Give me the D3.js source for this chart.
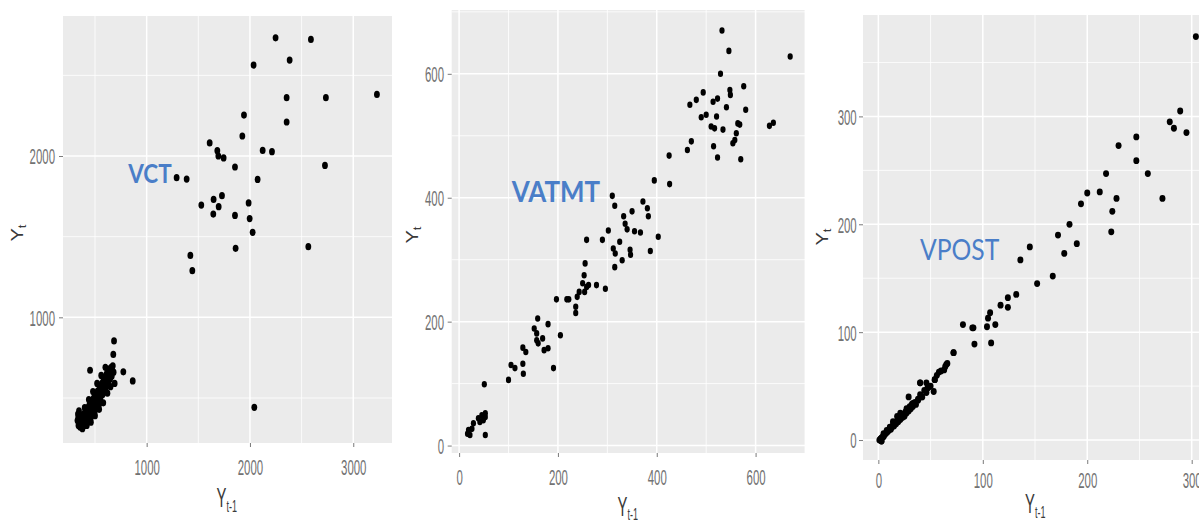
<!DOCTYPE html>
<html>
<head>
<meta charset="utf-8">
<script src="https://cdn.jsdelivr.net/npm/d3@7"></script>
<style>
  html, body { margin: 0; padding: 0; background: #ffffff; }
  svg { display: block; }
</style>
</head>
<body>
<svg id="chart" width="1199" height="524"></svg>
<script>
// ---------------- DATA ----------------
// Panel titles
const panelNames = ["VCT", "VATMT", "VPOST"];

// VCT: Y(t-1) and Y(t)
const vctPrev = [2248,2590,2384,2035,3229,2355,2735,2355,1942,1926,1610,1684,1694,1745,2123,2213,1855,2726,1290,1387,2074,1529,1648,1729,1697,1645,1987,1855,1997,2026,1861,2565,1423,1442,2042,
  684,677,452,774,865,
  340,350,355,362,368,372,378,383,388,392,398,402,407,412,418,423,428,433,438,442,447,452,457,462,467,472,477,482,487,492,497,502,507,512,517,522,527,532,537,542,547,552,557,562,567,572,577,582,587,592,597,602,607,612,617,622,627,632,637,642,647,652,657,662,667,672,600,560,520,480,440,400,420,460,500,540,580,620,650,680,690,330,335,345,338];
const vctCurr = [2733,2723,2595,2564,2382,2362,2362,2211,2254,2124,2081,2033,2000,1988,2035,2027,1932,1942,1866,1857,1855,1696,1731,1754,1686,1640,1709,1632,1612,1527,1428,1438,1384,1289,442,
  854,770,672,662,606,
  330,360,320,345,380,335,310,365,400,350,330,390,420,370,345,405,440,385,360,425,460,400,375,445,480,420,395,465,500,440,415,485,520,460,435,505,545,480,455,525,565,500,475,545,590,520,560,610,540,580,630,560,600,650,580,620,665,600,640,680,620,655,690,635,670,700,690,640,590,540,490,440,330,350,390,430,470,530,570,660,590,360,400,420,380];

// VATMT: Y(t-1) and Y(t)
const vatmtPrev = [532,546,670,529,576,548,549,580,467,480,494,490,500,514,523,521,510,517,534,541,564,568,561,558,554,628,636,515,523,570,462,470,425,426,395,310,315,372,350,381,383,333,336,340,302,355,367,403,258,290,325,312,316,346,347,387,330,315,255,253,250,258,254,262,278,296,243,239,197,218,222,236,236,205,159,152,157,157,180,169,172,180,160,129,135,129,130,105,113,100,191,51,53,17,19,29,39,46,53,49,42,22,26,53];
const vatmtCurr = [670,637,628,600,580,574,566,542,550,558,570,530,534,555,560,531,515,512,510,546,520,518,504,493,488,516,521,483,465,462,477,491,468,422,428,403,387,394,378,383,370,370,358,349,347,346,344,337,332,332,329,318,310,316,308,314,299,288,294,275,262,256,248,259,259,253,248,240,236,236,236,224,214,178,205,189,181,170,196,173,154,157,165,158,151,132,116,130,125,106,125,99,17,19,25,36,44,49,52,41,38,17,27,46];

// VPOST: Y(t-1) and Y(t)
const vpostPrev = [304,289,279,283,295,247,247,230,258,218,272,228,212,200,194,224,223,183,172,190,178,145,136,167,152,132,124,124,117,107,105,104,112,108,91,92,81,72,66,64,60,56,54,53,48,40,41,38,33,29,27,21,18,14,11,8,5,2,3,
  1,2,3,3,4,5,6,7,8,9,10,11,12,13,14,15,16,17,18,19,20,21,22,23,24,25,26,27,28,29,30,31,32,33,35,36,38,40,42,44,46,47,46,40,50,54,58,63,65,72,90];
const vpostCurr = [374,305,295,289,285,281,259,273,247,247,224,224,230,229,219,212,193,200,190,182,173,179,167,152,145,135,132,123,125,118,113,105,107,90,104,89,107,81,71,68,64,60,56,45,49,53,40,37,34,40,29,25,22,17,12,9,6,0,-1,
  0,1,-1,2,3,3,5,6,7,8,9,11,10,12,14,13,16,15,18,17,20,19,22,21,24,22,26,25,28,27,31,29,33,31,35,33,38,42,40,46,44,48,53,53,50,56,63,65,70,81,104];

// Tick labels
const vctXTicks = [1000, 2000, 3000];
const vctYTicks = [1000, 2000];
const vatmtXTicks = [0, 200, 400, 600];
const vatmtYTicks = [0, 200, 400, 600];
const vpostXTicks = [0, 100, 200, 300];
const vpostYTicks = [0, 100, 200, 300];

// Gridlines (minor)
const vctXMinor = [500, 1500, 2500];
const vctYMinor = [500, 1500, 2500];
const vatmtXMinor = [100, 300, 500, 700];
const vatmtYMinor = [100, 300, 500, 700];
const vpostXMinor = [50, 150, 250];
const vpostYMinor = [50, 150, 250, 350];

// ---------------- LAYOUT ----------------
const panels = [
  { name: panelNames[0], xs: vctPrev, ys: vctCurr, xTicks: vctXTicks, yTicks: vctYTicks, xMinor: vctXMinor, yMinor: vctYMinor,
    xDom: [190, 3375], yDom: [221, 2868], left: 63, right: 392, top: 16, bottom: 443,
    rx: 2.9, ry: 3.6, xLabBase: 32, yLabGap: 8,
    xTitle: { x: 216.5, y: 507, sub: 5 }, yTitle: { x: 23, y: 233 },
    label: { x: 128.3, y: 182.7, w: 43.4, fs: 27, weight: 700 } },
  { name: panelNames[1], xs: vatmtPrev, ys: vatmtCurr, xTicks: vatmtXTicks, yTicks: vatmtYTicks, xMinor: vatmtXMinor, yMinor: vatmtYMinor,
    xDom: [-15, 700], yDom: [-12, 703], left: 451.7, right: 805, top: 10, bottom: 453,
    rx: 2.6, ry: 3.3, xLabBase: 32, yLabGap: 7.7,
    xTitle: { x: 617.5, y: 516, sub: 4 }, yTitle: { x: 418, y: 235 },
    label: { x: 511.7, y: 201.7, w: 88.3, fs: 28, weight: 700 } },
  { name: panelNames[2], xs: vpostPrev, ys: vpostCurr, xTicks: vpostXTicks, yTicks: vpostYTicks, xMinor: vpostXMinor, yMinor: vpostYMinor,
    xDom: [-14.7, 307], yDom: [-18.5, 394], left: 863, right: 1199, top: 15, bottom: 460,
    rx: 3.0, ry: 3.4, xLabBase: 28, yLabGap: 6.3,
    xTitle: { x: 1025, y: 513, sub: 5 }, yTitle: { x: 828, y: 237 },
    label: { x: 920, y: 260, w: 79.3, fs: 28, weight: 400 } }
];

const svg = d3.select("#chart");
const SX = 0.52;          // horizontal squeeze of the picture's text
const tickFont = "'Liberation Sans', Arial, sans-serif";

panels.forEach(p => {
  const x = d3.scaleLinear().domain(p.xDom).range([p.left, p.right]);
  const y = d3.scaleLinear().domain(p.yDom).range([p.bottom, p.top]);
  const g = svg.append("g");

  // background
  g.append("rect").attr("x", p.left).attr("y", p.top)
    .attr("width", p.right - p.left).attr("height", p.bottom - p.top)
    .attr("fill", "#ebebeb");

  // minor grid
  g.selectAll(".vmin").data(p.xMinor).join("line")
    .attr("x1", d => x(d)).attr("x2", d => x(d)).attr("y1", p.top).attr("y2", p.bottom)
    .attr("stroke", "#ffffff").attr("stroke-width", 0.8);
  g.selectAll(".hmin").data(p.yMinor).join("line")
    .attr("y1", d => y(d)).attr("y2", d => y(d)).attr("x1", p.left).attr("x2", p.right)
    .attr("stroke", "#ffffff").attr("stroke-width", 0.8);
  // major grid
  g.selectAll(".vmaj").data(p.xTicks).join("line")
    .attr("x1", d => x(d)).attr("x2", d => x(d)).attr("y1", p.top).attr("y2", p.bottom)
    .attr("stroke", "#ffffff").attr("stroke-width", 1.5);
  g.selectAll(".hmaj").data(p.yTicks).join("line")
    .attr("y1", d => y(d)).attr("y2", d => y(d)).attr("x1", p.left).attr("x2", p.right)
    .attr("stroke", "#ffffff").attr("stroke-width", 1.5);

  // points
  const pts = p.xs.map((v, i) => [v, p.ys[i]]);
  g.selectAll(".pt").data(pts).join("ellipse")
    .attr("cx", d => x(d[0])).attr("cy", d => y(d[1]))
    .attr("rx", p.rx).attr("ry", p.ry)
    .attr("fill", "#000000");

  // x axis
  const gx = g.append("g").attr("transform", `translate(0,${p.bottom})`)
    .call(d3.axisBottom(x).tickValues(p.xTicks).tickSize(4).tickFormat(d3.format("d")));
  gx.select(".domain").remove();
  gx.selectAll(".tick line").attr("stroke", "#7a7a7a").attr("stroke-width", 1);
  gx.selectAll(".tick text")
    .attr("y", p.xLabBase).attr("dy", 0)
    .attr("transform", `scale(${SX},1)`)
    .attr("font-family", tickFont).attr("font-size", 22).attr("fill", "#727272");

  // y axis
  const gy = g.append("g").attr("transform", `translate(${p.left},0)`)
    .call(d3.axisLeft(y).tickValues(p.yTicks).tickSize(4).tickFormat(d3.format("d")));
  gy.select(".domain").remove();
  gy.selectAll(".tick line").attr("stroke", "#7a7a7a").attr("stroke-width", 1);
  gy.selectAll(".tick text")
    .attr("x", -p.yLabGap / SX).attr("dy", "0.36em")
    .attr("transform", `scale(${SX},1)`)
    .attr("font-family", tickFont).attr("font-size", 22).attr("fill", "#727272");

  // x title  Y_{t-1}
  const xt = g.append("g").attr("transform", `translate(${p.xTitle.x},${p.xTitle.y}) scale(0.53,1)`)
    .append("text").attr("font-family", tickFont).attr("fill", "#3a3a3a");
  xt.append("tspan").attr("font-size", 28).text("Y");
  xt.append("tspan").attr("font-size", 17).attr("dy", p.xTitle.sub).text("t-1");

  // y title  Y_t (rotated)
  const yt = g.append("g").attr("transform", `translate(${p.yTitle.x},${p.yTitle.y}) scale(0.82,1) rotate(-90)`)
    .append("text").attr("font-family", tickFont).attr("fill", "#3a3a3a").attr("text-anchor", "middle");
  yt.append("tspan").attr("font-size", 20).text("Y");
  yt.append("tspan").attr("font-size", 13).attr("dy", 4).text("t");

  // panel label
  g.append("text").attr("x", p.label.x).attr("y", p.label.y)
    .attr("font-family", "Lato, 'Open Sans', sans-serif")
    .attr("font-weight", p.label.weight).attr("font-size", p.label.fs)
    .attr("textLength", p.label.w).attr("lengthAdjust", "spacingAndGlyphs")
    .attr("fill", "#4a7ec8").text(p.name);
});
</script>
</body>
</html>
